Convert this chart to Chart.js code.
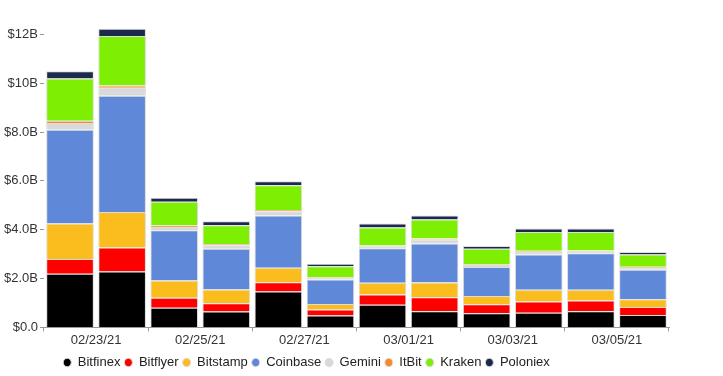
<!DOCTYPE html>
<html>
<head>
<meta charset="utf-8">
<script src="https://cdn.jsdelivr.net/npm/chart.js@4.4.1/dist/chart.umd.min.js"></script>
<style>
  html, body { margin: 0; padding: 0; background: #fff; }
  #wrap { width: 723px; height: 376px; }
</style>
</head>
<body>
<div id="wrap"><canvas id="volume_chart" width="723" height="376"></canvas></div>
<script>
// daily volume per exchange, in billions of USD
const days = ['02/22/21', '02/23/21', '02/24/21', '02/25/21', '02/26/21', '02/27/21',
              '02/28/21', '03/01/21', '03/02/21', '03/03/21', '03/04/21', '03/05/21'];

const bitfinex = [2.20, 2.29, 0.80, 0.65, 1.47, 0.49, 0.93, 0.66, 0.58, 0.60, 0.66, 0.51];
const bitflyer = [0.60, 0.98, 0.41, 0.34, 0.38, 0.24, 0.42, 0.57, 0.37, 0.46, 0.44, 0.33];
const bitstamp = [1.45, 1.46, 0.71, 0.56, 0.59, 0.23, 0.48, 0.61, 0.34, 0.48, 0.44, 0.31];
const coinbase = [3.84, 4.76, 2.06, 1.67, 2.14, 1.00, 1.41, 1.60, 1.18, 1.44, 1.50, 1.21];
const gemini   = [0.28, 0.32, 0.13, 0.14, 0.18, 0.07, 0.08, 0.16, 0.08, 0.12, 0.07, 0.08];
const itbit    = [0.09, 0.09, 0.06, 0.05, 0.05, 0.03, 0.03, 0.04, 0.03, 0.04, 0.04, 0.04];
const kraken   = [1.73, 2.03, 0.97, 0.77, 1.01, 0.44, 0.74, 0.78, 0.64, 0.77, 0.76, 0.51];
const poloniex = [0.30, 0.30, 0.17, 0.17, 0.16, 0.11, 0.16, 0.16, 0.11, 0.14, 0.14, 0.10];

const yTicks = [0, 2, 4, 6, 8, 10, 12];
// date labels sit on the boundary between two days
const xTickPos = [0.5, 2.5, 4.5, 6.5, 8.5, 10.5];

const series = [
  ['Bitfinex', bitfinex, '#000000'],
  ['Bitflyer', bitflyer, '#ff0000'],
  ['Bitstamp', bitstamp, '#fbbd1e'],
  ['Coinbase', coinbase, '#5f89d8'],
  ['Gemini', gemini, '#d9d9d9'],
  ['ItBit', itbit, '#f7892c'],
  ['Kraken', kraken, '#7eee02'],
  ['Poloniex', poloniex, '#1b2a4c']
];

const fontFam = '"Liberation Sans", Arial, sans-serif';

// nudge the legend left and a bit down like in the original
const legendShift = {
  id: 'legendShift',
  afterLayout(chart) {
    const lg = chart.legend;
    if (!lg) return;
    lg.left -= 29;
    lg.right -= 29;
    lg.top += 3;
    lg.bottom += 3;
  }
};

const ctx = document.getElementById('volume_chart').getContext('2d');

new Chart(ctx, {
  type: 'bar',
  data: {
    datasets: series.map(s => ({
      label: s[0],
      data: s[1].map((v, i) => ({ x: i, y: v })),
      backgroundColor: s[2],
      borderColor: '#dcdcdc',
      borderWidth: 1,
      barPercentage: 0.915,
      categoryPercentage: 1
    }))
  },
  options: {
    responsive: false,
    animation: false,
    layout: {
      padding: { left: 2, right: 54, top: 27, bottom: 0 }
    },
    plugins: {
      legend: {
        position: 'bottom',
        labels: {
          usePointStyle: true,
          pointStyle: 'circle',
          pointStyleWidth: 8,
          boxHeight: 6,
          padding: 4,
          color: '#222',
          font: { family: fontFam, size: 13 }
        }
      },
      tooltip: { enabled: false }
    },
    scales: {
      x: {
        type: 'linear',
        stacked: true,
        min: -0.5,
        max: 11.5,
        offset: false,
        afterBuildTicks: axis => {
          axis.ticks = xTickPos.map(v => ({ value: v }));
        },
        ticks: {
          color: '#333',
          font: { family: fontFam, size: 13 },
          padding: 1,
          maxRotation: 0,
          callback: v => days[Math.round(v + 0.5)]
        },
        grid: {
          drawOnChartArea: false,
          tickLength: 4,
          color: '#999'
        },
        border: { color: '#999' }
      },
      y: {
        stacked: true,
        min: 0,
        max: 12.3,
        afterBuildTicks: axis => {
          axis.ticks = yTicks.map(v => ({ value: v }));
        },
        ticks: {
          color: '#333',
          font: { family: fontFam, size: 13 },
          padding: 2,
          callback: v => v === 0 ? '$0.0' : (v >= 10 ? '$' + v + 'B' : '$' + v.toFixed(1) + 'B')
        },
        grid: {
          drawOnChartArea: false,
          tickLength: 4,
          color: '#999'
        },
        border: { display: false }
      }
    }
  },
  plugins: [legendShift]
});
</script>
</body>
</html>
